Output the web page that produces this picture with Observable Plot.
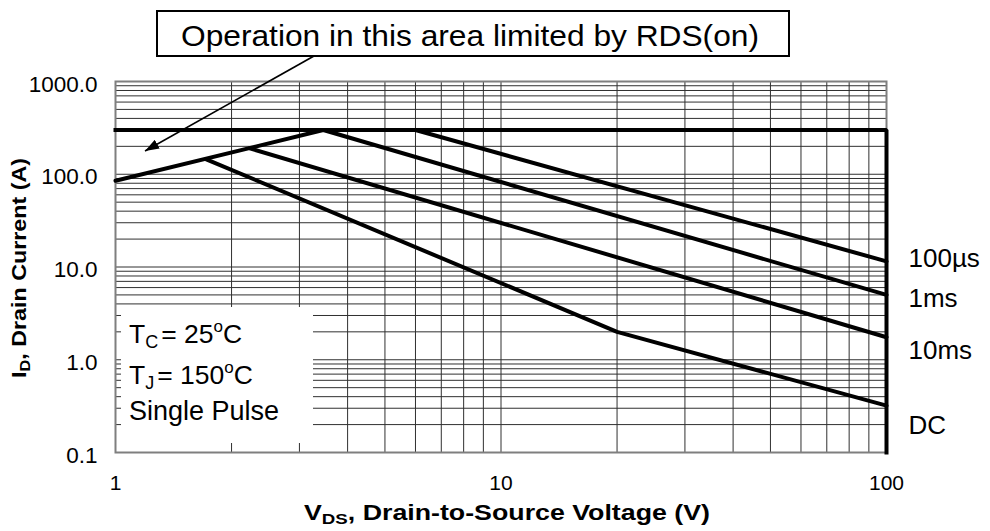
<!DOCTYPE html>
<html>
<head>
<meta charset="utf-8">
<script src="https://cdn.jsdelivr.net/npm/d3@7"></script>
<script src="https://cdn.jsdelivr.net/npm/@observablehq/plot@0.6"></script>
<style>
  html, body { margin: 0; padding: 0; background: #fff; }
  #chart svg { display: block; }
</style>
</head>
<body>
<div id="chart"></div>
<script>
// ---------------- data ----------------
const xTicks = [1, 10, 100];
const yTicks = [0.1, 1, 10, 100, 1000];
const xGrid = [1, 2, 3, 4, 5, 6, 7, 8, 9, 10, 20, 30, 40, 50, 60, 70, 80, 90, 100];
const yGrid = [0.1, 0.2, 0.3, 0.4, 0.5, 0.6, 0.7, 0.8, 0.9,
               1, 2, 3, 4, 5, 6, 7, 8, 9,
               10, 20, 30, 40, 50, 60, 70, 80, 90,
               100, 200, 300, 400, 500, 600, 700, 800, 900, 1000];

// RDS(on) limit line
const rdsV = [1, 3.46];
const rdsI = [85, 300];
// package current limit (300 A) and VDS limit (100 V)
const limitV = [1, 100, 100];
const limitI = [300, 300, 0.1];
// SOA curves
const us100V = [6.0, 100];
const us100I = [300, 11.5];
const ms1V = [3.46, 100];
const ms1I = [300, 5.0];
const ms10V = [2.23, 100];
const ms10I = [190, 1.75];
const dcV = [1.72, 20, 100];
const dcI = [145, 2.0, 0.32];

const curveNames = ["100\u00b5s", "1ms", "10ms", "DC"];
const curveLabelI = [12.4, 4.61, 1.26, 0.195];

// ---------------- chart ----------------
const FONT = '"Liberation Sans", Arial, Helvetica, sans-serif';
const rows = (v, i) => v.map((x, k) => ({v: x, i: i[k]}));
const lineOpts = {x: "v", y: "i", stroke: "black", strokeWidth: 4, strokeLinejoin: "miter"};

const svg = Plot.plot({
  width: 990,
  height: 531,
  marginLeft: 115,
  marginRight: 104,
  marginTop: 81,
  marginBottom: 79,
  x: {type: "log", domain: [1, 100], axis: null},
  y: {type: "log", domain: [0.1, 1000], axis: null},
  style: {fontFamily: FONT, background: "white", color: "black", overflow: "visible"},
  marks: [
    Plot.ruleX(xGrid, {stroke: "#303030", strokeWidth: 1}),
    Plot.ruleY(yGrid, {stroke: "#303030", strokeWidth: 1}),
    Plot.frame({stroke: "#7f7f7f", strokeWidth: 2}),
    Plot.line(rows(limitV, limitI), {...lineOpts, strokeLinecap: "square"}),
    Plot.line(rows(rdsV, rdsI), lineOpts),
    Plot.line(rows(us100V, us100I), lineOpts),
    Plot.line(rows(ms1V, ms1I), lineOpts),
    Plot.line(rows(ms10V, ms10I), lineOpts),
    Plot.line(rows(dcV, dcI), lineOpts),
    Plot.text(curveNames, {x: 100, y: (d, i) => curveLabelI[i], text: d => d,
      dx: 22, textAnchor: "start", fontSize: 26, fill: "black"}),
    Plot.text(xTicks, {x: d => d, frameAnchor: "bottom", dy: 37, text: d => String(d),
      fontSize: 21, fill: "black"}),
    Plot.text(yTicks, {y: d => d, frameAnchor: "left", dx: -18, dy: 3, textAnchor: "end",
      text: d => d3.format(".1f")(d), fontSize: 22.5, fill: "black"})
  ]
});
document.getElementById("chart").append(svg);

// ---------------- annotations ----------------
const root = d3.select(svg);
const g = root.append("g").attr("font-family", FONT).attr("fill", "black")
  .attr("text-anchor", "start");

// white box for test conditions
g.append("rect").attr("x", 121).attr("y", 307).attr("width", 192).attr("height", 136)
  .attr("fill", "white");

function addSubSup(parent, x, y, size, parts) {
  const t = parent.append("text").attr("x", x).attr("y", y).attr("font-size", size)
    .attr("text-anchor", "start");
  let shift = 0;
  for (const p of parts) {
    const ts = t.append("tspan").text(p.t);
    const target = p.sub ? 5 : p.sup ? -11 : 0;
    if (target !== shift) { ts.attr("dy", target - shift); shift = target; }
    if (p.sub || p.sup) ts.attr("font-size", p.size || 18);
    if (p.dx) ts.attr("dx", p.dx);
  }
  return t;
}
addSubSup(g, 129, 343, 26.5, [
  {t: "T"}, {t: "C", sub: true, size: 18}, {t: "= 25", dx: 3}, {t: "o", sup: true, size: 17}, {t: "C"}
]);
addSubSup(g, 129, 384, 26.5, [
  {t: "T"}, {t: "J", sub: true, size: 18}, {t: "= 150", dx: 3}, {t: "o", sup: true, size: 17}, {t: "C"}
]);
g.append("text").attr("x", 129).attr("y", 420).attr("font-size", 27)
  .attr("text-anchor", "start").text("Single Pulse");

// top note box + arrow
const defs = root.append("defs");
defs.append("marker").attr("id", "ahead").attr("viewBox", "0 0 14 10")
  .attr("refX", 14).attr("refY", 5).attr("markerUnits", "userSpaceOnUse")
  .attr("markerWidth", 14).attr("markerHeight", 10).attr("orient", "auto")
  .append("path").attr("d", "M0,0L14,5L0,10z").attr("fill", "black");
g.append("line").attr("x1", 314).attr("y1", 56).attr("x2", 145).attr("y2", 151)
  .attr("stroke", "black").attr("stroke-width", 1.6).attr("marker-end", "url(#ahead)");
g.append("rect").attr("x", 157).attr("y", 11).attr("width", 632).attr("height", 45)
  .attr("fill", "white").attr("stroke", "black").attr("stroke-width", 2);
g.append("text").attr("x", 181).attr("y", 46).attr("font-size", 29)
  .attr("text-anchor", "start")
  .attr("textLength", 578).attr("lengthAdjust", "spacingAndGlyphs")
  .text("Operation in this area limited by RDS(on)");

// axis titles
const xt = g.append("text").attr("x", 304).attr("y", 520).attr("font-size", 21.5)
  .attr("text-anchor", "start")
  .attr("font-weight", "bold").attr("textLength", 406).attr("lengthAdjust", "spacingAndGlyphs");
xt.append("tspan").text("V");
xt.append("tspan").attr("font-size", 15).attr("dy", 4).text("DS");
xt.append("tspan").attr("dy", -4).text(", Drain-to-Source Voltage (V)");

const yt = g.append("text").attr("transform", "translate(25.5,378) rotate(-90)")
  .attr("x", 0).attr("y", 0).attr("font-size", 20).attr("font-weight", "bold")
  .attr("text-anchor", "start")
  .attr("textLength", 220).attr("lengthAdjust", "spacingAndGlyphs");
yt.append("tspan").text("I");
yt.append("tspan").attr("font-size", 14).attr("dy", 4).text("D");
yt.append("tspan").attr("dy", -4).text(", Drain Current (A)");
</script>
</body>
</html>
